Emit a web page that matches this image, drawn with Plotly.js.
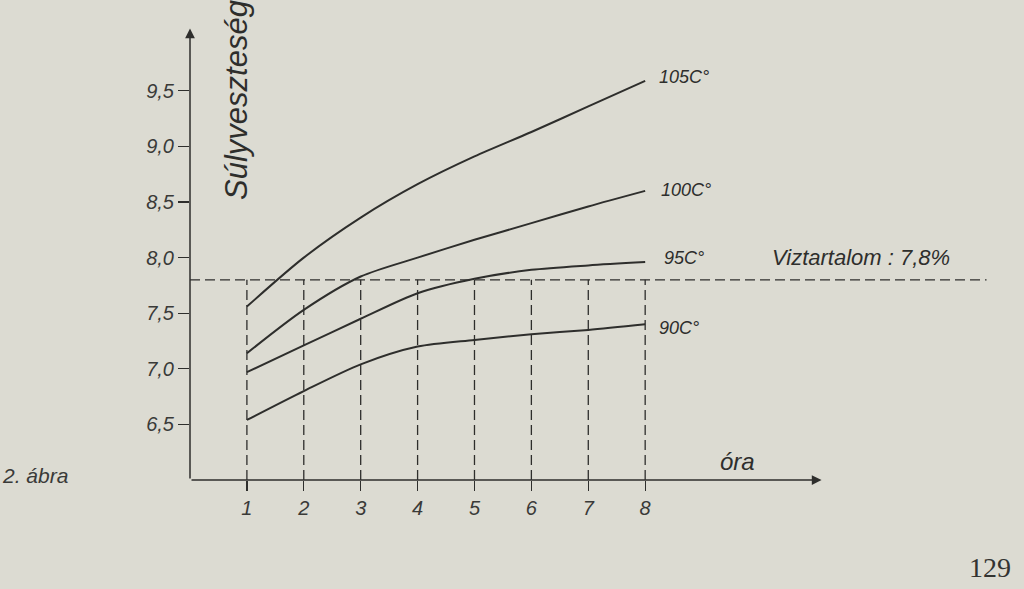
<!DOCTYPE html>
<html>
<head>
<meta charset="utf-8">
<script src="https://cdn.plot.ly/plotly-3.0.1.min.js"></script>
<style>
  html, body { margin: 0; padding: 0; background: #dcdbd2; }
  #chart { width: 1024px; height: 589px; }
</style>
</head>
<body>
<div id="chart"></div>
<script>
// ---- data ----
const hours = [1, 2, 3, 4, 5, 6, 7, 8];
const loss90  = [6.54, 6.80, 7.04, 7.20, 7.26, 7.31, 7.35, 7.40];
const loss95  = [6.97, 7.21, 7.45, 7.68, 7.81, 7.89, 7.93, 7.96];
const loss100 = [7.14, 7.53, 7.83, 8.00, 8.16, 8.31, 8.46, 8.60];
const loss105 = [7.56, 8.00, 8.36, 8.66, 8.91, 9.13, 9.36, 9.59];
const seriesNames = ['90C°', '95C°', '100C°', '105C°'];
const waterContent = 7.8;
const waterLabel = 'Viztartalom : 7,8%';
const yTickVals = [6.5, 7.0, 7.5, 8.0, 8.5, 9.0, 9.5];
const yTickText = ['6,5', '7,0', '7,5', '8,0', '8,5', '9,0', '9,5'];
const xTickText = ['1', '2', '3', '4', '5', '6', '7', '8'];
const yTitle = 'Súlyveszteség';
const xTitle = 'óra';
const figLabel = '2. ábra';
const pageNumber = '129';

const ink = '#2e2e2c';
const bg = '#dcdbd2';
const hand = 'Liberation Sans Narrow, Liberation Sans, Arial, sans-serif';

const allSeries = [loss90, loss95, loss100, loss105];
const traces = allSeries.map((vals, i) => ({
  x: hours, y: vals, type: 'scatter', mode: 'lines',
  name: seriesNames[i],
  line: { color: ink, width: 2, shape: 'spline', smoothing: 0.8 },
  hoverinfo: 'skip'
}));

// water content horizontal dashed line
traces.push({
  x: [0, 14], y: [waterContent, waterContent], type: 'scatter', mode: 'lines',
  line: { color: ink, width: 1.3, dash: '10px,5px' }, hoverinfo: 'skip'
});

// vertical dashed drop lines at each hour
const shapes = hours.map(h => ({
  type: 'line', xref: 'x', yref: 'y',
  x0: h, x1: h, y0: 6.0, y1: waterContent,
  line: { color: ink, width: 1.3, dash: '10px,5px' }
}));

const labelFont = { family: hand, size: 18, color: ink, style: 'italic' };
const labelY = [7.37, 8.0, 8.605, 9.62];
const labelX = [8.21, 8.3, 8.25, 8.21];
const annotations = seriesNames.map((n, i) => ({
  x: labelX[i], y: labelY[i], xref: 'x', yref: 'y', text: n,
  showarrow: false, xanchor: 'left', yanchor: 'middle', font: labelFont
}));

annotations.push(
  { x: 10.19, y: 8.0, xref: 'x', yref: 'y', text: waterLabel, showarrow: false,
    xanchor: 'left', yanchor: 'middle', font: { family: hand, size: 22, color: ink, style: 'italic' } },
  { x: 9.63, y: 6.17, xref: 'x', yref: 'y', text: xTitle, showarrow: false,
    xanchor: 'center', yanchor: 'middle', font: { family: hand, size: 24, color: ink, style: 'italic' } },
  { x: 0.83, y: 9.42, xref: 'x', yref: 'y', text: yTitle, showarrow: false, textangle: -90,
    xanchor: 'center', yanchor: 'middle', font: { family: hand, size: 31, color: ink, style: 'italic' } },
  { x: -0.2303, y: 0.0086, xref: 'paper', yref: 'paper', text: figLabel, showarrow: false,
    xanchor: 'left', yanchor: 'middle', font: { family: 'Liberation Sans, Arial, sans-serif', size: 21, color: '#3a3a38', style: 'italic' } },
  { x: 0.9697, y: -0.1863, xref: 'paper', yref: 'paper', text: pageNumber, showarrow: false,
    xanchor: 'center', yanchor: 'middle', font: { family: 'Liberation Serif, DejaVu Serif, serif', size: 28, color: '#333331' } },
  // axis arrows
  { x: 11.1, y: 6.0, ax: 0, ay: 6.0, xref: 'x', yref: 'y', axref: 'x', ayref: 'y',
    text: '', showarrow: true, arrowhead: 2, arrowsize: 1.3, arrowwidth: 1.5, arrowcolor: ink },
  { x: 0, y: 10.06, ax: 0, ay: 6.0, xref: 'x', yref: 'y', axref: 'x', ayref: 'y',
    text: '', showarrow: true, arrowhead: 2, arrowsize: 1.3, arrowwidth: 1.5, arrowcolor: ink }
);

const layout = {
  width: 1024, height: 589,
  margin: { l: 190, r: 9, t: 13, b: 109 },
  paper_bgcolor: bg, plot_bgcolor: bg,
  showlegend: false,
  xaxis: {
    range: [0, 14.5], showgrid: false, zeroline: false, showline: false,
    tickvals: hours, ticktext: xTickText,
    ticks: 'outside', ticklen: 10, tickwidth: 1.3, tickcolor: ink,
    tickfont: { family: hand, size: 20, color: '#3a3a38', style: 'italic' }
  },
  yaxis: {
    range: [6.0, 10.2], showgrid: false, zeroline: false, showline: false,
    tickvals: yTickVals, ticktext: yTickText,
    ticks: 'outside', ticklen: 11, tickwidth: 1.3, tickcolor: ink,
    tickfont: { family: hand, size: 20, color: '#3a3a38', style: 'italic' }
  },
  shapes: shapes,
  annotations: annotations
};

Plotly.newPlot('chart', traces, layout, { staticPlot: true, displayModeBar: false });
</script>
</body>
</html>
